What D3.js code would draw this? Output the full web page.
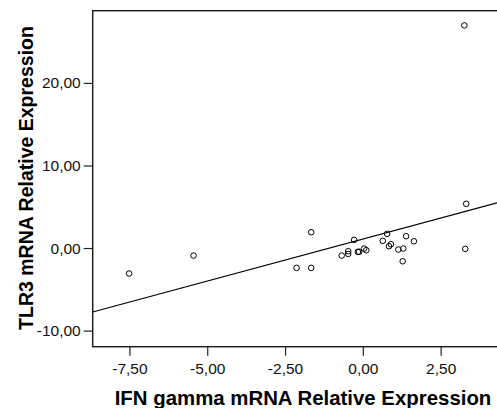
<!DOCTYPE html>
<html>
<head>
<meta charset="utf-8">
<script src="https://cdn.jsdelivr.net/npm/d3@7"></script>
<style>
  body { margin: 0; background: #fff; }
  svg { display: block; font-family: "Liberation Sans", Arial, sans-serif; }
</style>
</head>
<body>
<div id="chart"></div>
<script>
const width = 497;
const height = 408;
const margin = { top: 10.7, right: 0, bottom: 61.3, left: 92.7 };

// IFN gamma (x) vs TLR3 (y) relative expression
const ifnGamma = [-7.51, -5.44, -2.13, -1.66, -1.66, -0.68, -0.47, -0.47, -0.28, -0.16, -0.12,
  0.04, 0.11, 0.64, 0.78, 0.84, 0.90, 1.14, 1.28, 1.30, 1.39, 1.64, 3.26, 3.29, 3.32];
const tlr3 = [-3.09, -0.91, -2.40, -2.40, 1.92, -0.91, -0.38, -0.71, 0.99, -0.47, -0.45,
  -0.06, -0.26, 0.87, 1.72, 0.22, 0.46, -0.18, -1.60, -0.06, 1.43, 0.82, 26.97, -0.10, 5.36];
const xTicks = [-7.5, -5, -2.5, 0, 2.5];
const yTicks = [-10, 0, 10, 20];

// fit line
const fitIntercept = 1.09;
const fitSlope = 1.018;

const points = ifnGamma.map((d, i) => ({ x: d, y: tlr3[i] }));

const svg = d3.select("#chart")
  .append("svg")
  .attr("width", width)
  .attr("height", height);

const x = d3.scaleLinear()
  .domain([-8.68, 4.31])
  .range([margin.left, width - margin.right]);

const y = d3.scaleLinear()
  .domain([-11.95, 28.75])
  .range([height - margin.bottom, margin.top]);

const fmt = v => v.toFixed(2).replace(".", ",");

// frame (right side runs off the picture)
svg.append("rect")
  .attr("x", margin.left)
  .attr("y", margin.top)
  .attr("width", width - margin.left + 5)
  .attr("height", height - margin.bottom - margin.top)
  .attr("fill", "none")
  .attr("stroke", "#222")
  .attr("stroke-width", 1.5);

const xAxis = svg.append("g")
  .attr("transform", `translate(0,${height - margin.bottom})`)
  .call(d3.axisBottom(x).tickValues(xTicks).tickFormat(fmt).tickSize(9).tickPadding(7));

const yAxis = svg.append("g")
  .attr("transform", `translate(${margin.left},0)`)
  .call(d3.axisLeft(y).tickValues(yTicks).tickFormat(fmt).tickSize(9).tickPadding(3));

[xAxis, yAxis].forEach(g => {
  g.select(".domain").remove();
  g.selectAll("line").attr("stroke", "#222").attr("stroke-width", 1.2);
  g.selectAll("text")
    .attr("fill", "#111")
    .style("font-family", "'Liberation Sans', Arial, sans-serif")
    .style("font-size", "15.5px");
});

// regression line
const line = d3.line()
  .x(d => x(d))
  .y(d => y(fitIntercept + fitSlope * d));

svg.append("path")
  .datum(x.domain())
  .attr("d", line)
  .attr("fill", "none")
  .attr("stroke", "#000")
  .attr("stroke-width", 1.1);

svg.append("g")
  .selectAll("circle")
  .data(points)
  .enter()
  .append("circle")
  .attr("cx", d => x(d.x))
  .attr("cy", d => y(d.y))
  .attr("r", 2.8)
  .attr("fill", "none")
  .attr("stroke", "#000")
  .attr("stroke-width", 1);

// axis titles
svg.append("text")
  .attr("x", 303)
  .attr("y", 405)
  .attr("text-anchor", "middle")
  .style("font-size", "20.4px")
  .style("font-weight", "bold")
  .text("IFN gamma mRNA Relative Expression");

svg.append("text")
  .attr("transform", "translate(33,178) rotate(-90)")
  .attr("text-anchor", "middle")
  .style("font-size", "19.5px")
  .style("font-weight", "bold")
  .text("TLR3 mRNA Relative Expression");
</script>
</body>
</html>
